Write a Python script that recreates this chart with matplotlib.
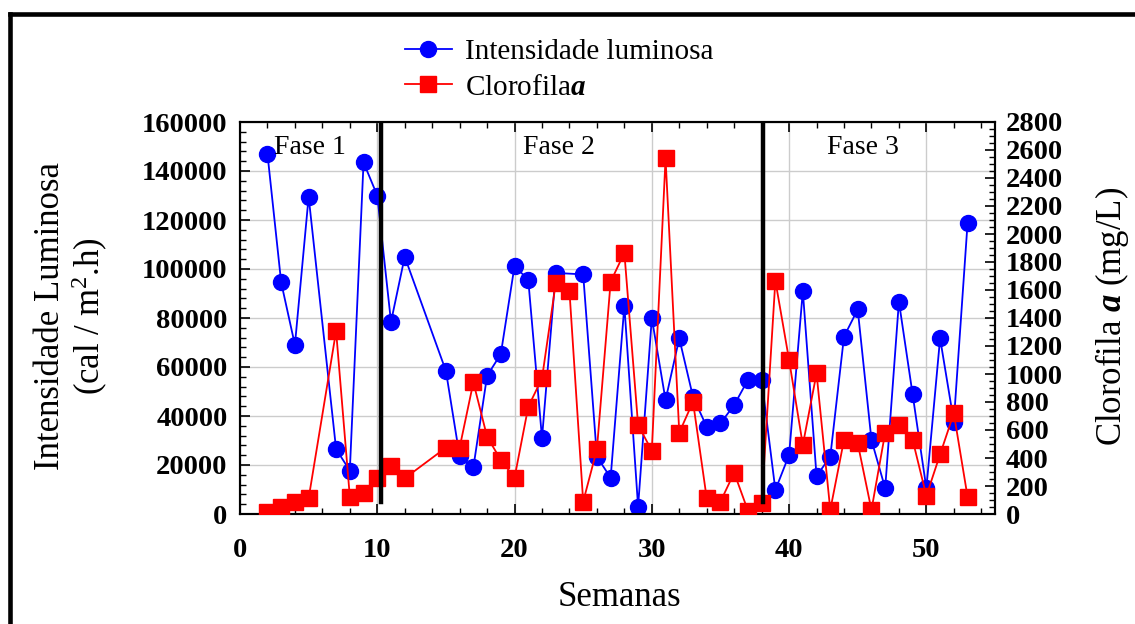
import matplotlib
matplotlib.use("Agg")
import matplotlib.pyplot as plt
from matplotlib.ticker import MultipleLocator
from matplotlib.lines import Line2D

plt.rcParams['font.family'] = ['Liberation Serif', 'DejaVu Serif']
plt.rcParams['mathtext.fontset'] = 'custom'
plt.rcParams['mathtext.rm'] = 'Liberation Serif'
plt.rcParams['mathtext.it'] = 'Liberation Serif:italic'
plt.rcParams['mathtext.bf'] = 'Liberation Serif:bold'
plt.rcParams['mathtext.bfit'] = 'Liberation Serif:italic:bold'

# ---- data ----
weeks_luz = [2, 3, 4, 5, 7, 8, 9, 10, 11, 12, 15, 16, 17, 18, 19, 20, 21, 22, 23,
             25, 26, 27, 28, 29, 30, 31, 32, 33, 34, 35, 36, 37, 38, 39, 40, 41,
             42, 43, 44, 45, 46, 47, 48, 49, 50, 51, 52, 53]
luz = [147000, 94500, 69000, 129500, 26500, 17700, 143500, 130000, 78400, 105000,
       58400, 23500, 19000, 56400, 65300, 101300, 95500, 31000, 98400,
       97800, 23400, 14800, 85000, 3000, 80000, 46500, 71700, 47800, 35600, 37000,
       44500, 54700, 54700, 9800, 24100, 91000, 15500, 23400, 72400, 83500, 30200,
       10500, 86700, 48800, 10500, 71700, 37700, 118600]

weeks_clor = [2, 3, 4, 5, 7, 8, 9, 10, 11, 12, 15, 16, 17, 18, 19, 20, 21, 22, 23,
              24, 25, 26, 27, 28, 29, 30, 31, 32, 33, 34, 35, 36, 37, 38, 39, 40,
              41, 42, 43, 44, 45, 46, 47, 48, 49, 50, 51, 52, 53]
clor = [16, 52, 88, 112, 1307, 124, 148, 260, 343, 255, 474, 474, 941, 552, 386,
        259, 766, 969, 1648, 1593, 88, 462, 1659, 1866, 636, 452, 2541, 581, 802,
        112, 88, 295, 24, 76, 1667, 1100, 493, 1005, 29, 529, 505, 29, 581, 636,
        529, 129, 426, 719, 124]

phase_bounds = [10.3, 38.1]
phase_labels = ['Fase 1', 'Fase 2', 'Fase 3']
phase_label_x = [5.1, 23.2, 45.4]

# ---- figure ----
W, H = 1135, 624
fig = plt.figure(figsize=(W / 100, H / 100), dpi=100)
ax = fig.add_axes([240 / W, 1 - 514 / H, (995 - 240) / W, (514 - 122) / H])
ax2 = ax.twinx()

ax.set_xlim(0, 55)
ax.set_ylim(0, 160000)
ax2.set_ylim(0, 2800)

ax.grid(True, which='major', color='#cccccc', lw=1.0)
ax.set_axisbelow(True)

l1, = ax.plot(weeks_luz, luz, color='#0000ff', lw=1.3, marker='o', ms=11.5,
              label='Intensidade luminosa', zorder=3)
l2, = ax2.plot(weeks_clor, clor, color='#ff0000', lw=1.3, marker='s', ms=11,
               label='Clorofila$\\mathbfit{a}$', zorder=3)

for xb in phase_bounds:
    ax2.axvline(xb, ymin=0.03, ymax=1, color='black', lw=3.2, zorder=5)

for lab, xp in zip(phase_labels, phase_label_x):
    ax.text(xp, 149400, lab, ha='center', va='center', fontsize=20, zorder=6)

ax.xaxis.set_major_locator(MultipleLocator(10))
ax.xaxis.set_minor_locator(MultipleLocator(2))
ax.yaxis.set_major_locator(MultipleLocator(20000))
ax.yaxis.set_minor_locator(MultipleLocator(4000))
ax2.yaxis.set_major_locator(MultipleLocator(200))
ax2.yaxis.set_minor_locator(MultipleLocator(50))

ax.tick_params(axis='x', which='both', direction='in', top=True, bottom=True)
ax.tick_params(axis='x', which='major', length=7, width=1.2, pad=17)
ax.tick_params(axis='x', which='minor', length=4, width=1.0)
ax.tick_params(axis='y', which='both', direction='in', left=True, right=False)
ax.tick_params(axis='y', which='major', length=7, width=1.2, pad=9)
ax.tick_params(axis='y', which='minor', length=4, width=1.0)
ax2.tick_params(axis='y', which='both', direction='in', right=True, left=False)
ax2.tick_params(axis='y', which='major', length=7, width=1.2, pad=8)
ax2.tick_params(axis='y', which='minor', length=4, width=1.0)

for a in (ax, ax2):
    for lbl in a.get_xticklabels() + a.get_yticklabels():
        lbl.set_fontsize(20.5)
        lbl.set_fontweight('bold')
    for sp in a.spines.values():
        sp.set_linewidth(1.5)

# axis labels
fig.text(72 / W, 1 - 316.5 / H, 'Intensidade Luminosa\n(cal / m$^2$.h)',
         rotation=90, ha='center', va='center', fontsize=25,
         multialignment='center', linespacing=1.1)
fig.text(1112 / W, 1 - 316.5 / H, 'Clorofila $\\mathbfit{a}$ (mg/L)',
         rotation=90, ha='center', va='center', fontsize=25)
fig.text(619.5 / W, 1 - 597 / H, 'Semanas', ha='center', va='center', fontsize=25)

# legend
fig.legend(handles=[l1, l2], loc='upper left',
           bbox_to_anchor=(405 / W, 1 - 39 / H), frameon=False, fontsize=21,
           handlelength=1.6, handletextpad=0.45, labelspacing=0.3,
           borderpad=0, borderaxespad=0)

# outer frame (top and left)
fig.add_artist(Line2D([9.5 / W, 9.5 / W], [0, 1 - 13.5 / H], color='black',
                      lw=3.3, transform=fig.transFigure, solid_capstyle='projecting'))
fig.add_artist(Line2D([9.5 / W, 1], [1 - 13.5 / H, 1 - 13.5 / H], color='black',
                      lw=3.3, transform=fig.transFigure, solid_capstyle='projecting'))

fig.savefig('out.png', dpi=100)
